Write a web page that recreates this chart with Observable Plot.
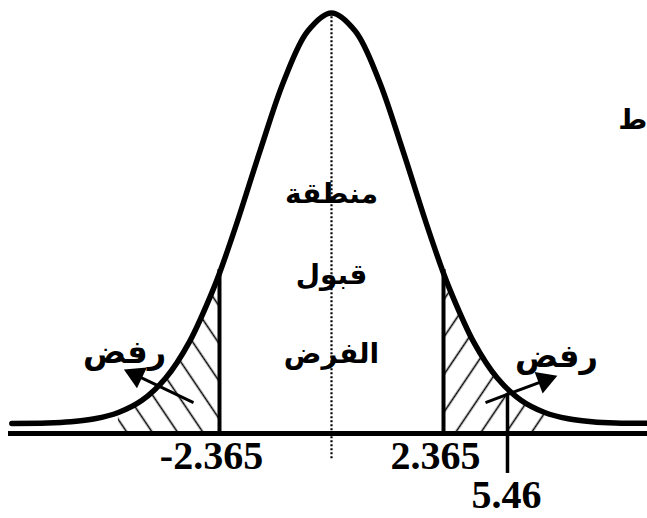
<!DOCTYPE html>
<html><head><meta charset="utf-8">
<script src="https://cdn.jsdelivr.net/npm/d3@7"></script>
<script src="https://cdn.jsdelivr.net/npm/@observablehq/plot@0.6"></script>
<style>
body{margin:0;background:#fff;}
#chart svg{overflow:hidden;display:block;}
</style>
</head><body>
<svg width="0" height="0" style="position:absolute">
<defs>
<pattern id="hatchL" patternUnits="userSpaceOnUse" width="21" height="21" patternTransform="rotate(-34)"><line x1="10.5" y1="-1" x2="10.5" y2="22" stroke="#000" stroke-width="1.6"/></pattern>
<pattern id="hatchR" patternUnits="userSpaceOnUse" width="21" height="21" patternTransform="rotate(34)"><line x1="10.5" y1="-1" x2="10.5" y2="22" stroke="#000" stroke-width="1.6"/></pattern>
</defs>
</svg>
<div id="chart"></div>
<script>
// Curve (t in critical-value units, height relative to peak)
const curveX = [-6.75,-6,-5.5,-5,-4.5,-4,-3.5,-3,-2.5,-2.365,-2,-1.5,-1,-0.5,0,0.5,1,1.5,2,2.365,2.5,3,3.5,4,4.5,5,5.5,6,7.2];
const curveH = [0.024,0.025,0.028,0.035,0.050,0.079,0.132,0.218,0.342,0.381,0.500,0.675,0.840,0.957,1.000,0.957,0.840,0.675,0.500,0.381,0.342,0.218,0.132,0.079,0.050,0.035,0.028,0.025,0.024];
const criticalX = [-2.365, 2.365];
const criticalLabels = ["-2.365", "2.365"];
const criticalTop = [0.39, 0.39];
const statX = [3.716];          // drawn position of the test statistic marker
const statLabels = ["5.46"];
const statRange = [0.095, -0.095];
const hatchLeftRange = [-4.5, -2.365];
const hatchRightRange = [2.365, 4.5];
const baselineExtent = [-6.82, 7.2];
const centerDash = [-0.06, 1.0];
const acceptLabels = ["منطقة", "قبول", "الفرض"];
const acceptY = [0.570, 0.377, 0.190];
const rejectLabels = ["رفض", "رفض"];
const rejectX = [-4.37, 4.75];
const rejectY = [0.192, 0.183];
const arrowFromX = [-2.914, 3.252];
const arrowFromY = [0.0736, 0.0736];
const arrowToX = [-4.244, 4.624];
const arrowToY = [0.145, 0.131];
const edgeText = ["ط"];
const edgeX = [6.67];
const edgeY = [0.745];

const curve = curveX.map((x, i) => ({x, h: curveH[i]}));
const hatchL = curve.filter(d => d.x >= hatchLeftRange[0] && d.x <= hatchLeftRange[1]);
const hatchR = curve.filter(d => d.x >= hatchRightRange[0] && d.x <= hatchRightRange[1]);
const crit = criticalX.map((x, i) => ({x, label: criticalLabels[i], top: criticalTop[i]}));
const stat = statX.map((x, i) => ({x, label: statLabels[i]}));
const accept = acceptLabels.map((t, i) => ({t, y: acceptY[i]}));
const reject = rejectLabels.map((t, i) => ({t, x: rejectX[i], y: rejectY[i]}));

const X = {type: "linear", domain: [-7, 7], range: [331 - 7 * 47.36, 331 + 7 * 47.36]};
const Y = {type: "linear", domain: [0, 1], range: [433, 12.5]};
const sx = d3.scaleLinear(X.domain, X.range), sy = d3.scaleLinear(Y.domain, Y.range);
const arrows = arrowFromX.map((x1, i) => {
  const px1 = sx(x1), py1 = sy(arrowFromY[i]), px2 = sx(arrowToX[i]), py2 = sy(arrowToY[i]);
  const dx = px2 - px1, dy = py2 - py1, L = Math.hypot(dx, dy);
  const ux = dx / L, uy = dy / L;
  return {x1, y1: arrowFromY[i], x2: arrowToX[i], y2: arrowToY[i],
    lx2: sx.invert(px2 - ux * 10), ly2: sy.invert(py2 - uy * 10),
    hx: sx.invert(px2 - ux * 6), hy: sy.invert(py2 - uy * 6),
    rot: Math.atan2(dx, -dy) * 180 / Math.PI};
});

const arabic = "'DejaVu Sans', sans-serif";
const serif = "'Liberation Serif', 'Times New Roman', serif";

const plot = Plot.plot({
  width: 647, height: 518, margin: 0,
  x: {...X, axis: null}, y: {...Y, axis: null},
  style: {background: "#fff", overflow: "hidden"},
  marks: [
    Plot.areaY(hatchL, {x: "x", y1: 0, y2: "h", curve: "catmull-rom", fill: "url(#hatchL)"}),
    Plot.areaY(hatchR, {x: "x", y1: 0, y2: "h", curve: "catmull-rom", fill: "url(#hatchR)"}),
    Plot.ruleX([0], {y1: centerDash[0], y2: centerDash[1], stroke: "#000", strokeWidth: 2.2, strokeDasharray: "2,2"}),
    Plot.ruleY([0], {x1: baselineExtent[0], x2: baselineExtent[1], stroke: "#000", strokeWidth: 5}),
    Plot.line(curve, {x: "x", y: "h", curve: "catmull-rom", stroke: "#000", strokeWidth: 5.5}),
    Plot.ruleX(crit, {x: "x", y1: 0, y2: "top", stroke: "#000", strokeWidth: 4}),
    Plot.ruleX(stat, {x: "x", y1: statRange[0], y2: statRange[1], stroke: "#000", strokeWidth: 3.5}),
    Plot.link(arrows, {x1: "x1", y1: "y1", x2: "lx2", y2: "ly2", stroke: "#000", strokeWidth: 3}),
    Plot.dot(arrows, {x: "hx", y: "hy", symbol: "triangle2", r: 11, fill: "#000", stroke: null, rotate: "rot"}),
    Plot.text(crit, {x: "x", y: -0.055, text: "label", dx: -8, fontFamily: serif, fontWeight: "bold", fontSize: 40, fill: "#000"}),
    Plot.text(stat, {x: "x", y: -0.147, text: "label", dx: -1, fontFamily: serif, fontWeight: "bold", fontSize: 40, fill: "#000"}),
    Plot.text(accept, {x: 0, y: "y", text: "t", fontFamily: arabic, fontWeight: "bold", fontSize: 28, fill: "#000"}),
    Plot.text(reject, {x: "x", y: "y", text: "t", fontFamily: arabic, fontWeight: "bold", fontSize: 32, fill: "#000"}),
    Plot.text(edgeText, {x: edgeX, y: edgeY, text: d => d, textAnchor: "end", fontFamily: arabic, fontWeight: "bold", fontSize: 28, fill: "#000"})
  ]
});
document.getElementById("chart").appendChild(plot);
</script>
</body></html>
